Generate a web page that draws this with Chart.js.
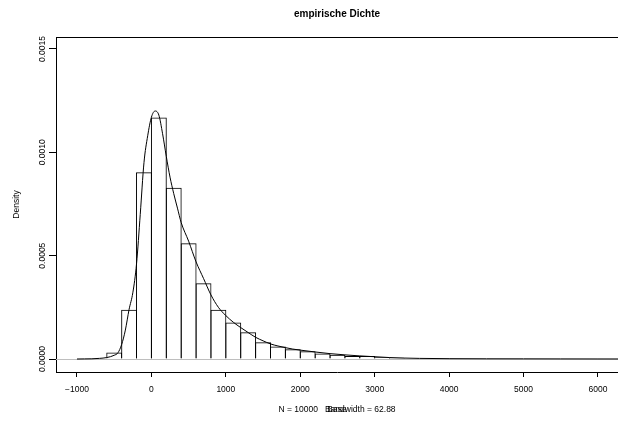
<!DOCTYPE html>
<html>
<head>
<meta charset="utf-8">
<script src="https://cdn.jsdelivr.net/npm/chart.js@4"></script>
<style>
  html, body { margin: 0; padding: 0; background: #fff; }
  #wrap { width: 618px; height: 423px; position: relative; }
</style>
</head>
<body>
<div id="wrap"><canvas id="myChart" width="618" height="423"></canvas></div>
<script>
// histogram: bin edges and density per bin
var breaks = [-600, -400, -200, 0, 200, 400, 600, 800, 1000, 1200, 1400, 1600, 1800, 2000, 2200, 2400, 2600, 2800, 3000, 3200, 3400, 3600, 3800];
var dichte = [0.000032, 0.000238, 0.000903, 0.001169, 0.000828, 0.000560, 0.000366, 0.000238, 0.000177, 0.000129, 0.000081, 0.000061, 0.000047, 0.000037, 0.000027, 0.000021, 0.000015, 0.000015, 0.000008, 0.000006, 0.000004, 0.000002];

// kernel density curve
var kdeX = [-1000, -900, -800, -700, -600, -500, -450, -400, -350, -300, -250, -200, -150, -100, -50, 0, 50, 100, 150, 200, 250, 300, 350, 400, 500, 600, 700, 800, 900, 1000, 1100, 1200, 1300, 1400, 1500, 1600, 1700, 1800, 1900, 2000, 2200, 2400, 2600, 2800, 3000, 3200, 3400, 3600, 4000, 4500, 5000, 5500, 6000, 6300];
var kdeY = [0, 0.0000005, 0.000001, 0.000003, 0.000007, 0.000018, 0.00003, 0.00007, 0.00014, 0.00024, 0.00032, 0.00046, 0.0007, 0.00095, 0.00108, 0.00117, 0.0012, 0.00118, 0.00109, 0.00098, 0.00088, 0.0008, 0.00073, 0.00066, 0.00057, 0.00047, 0.00039, 0.00031, 0.00025, 0.00021, 0.000178, 0.000152, 0.000128, 0.000105, 0.000088, 0.000073, 0.000063, 0.000055, 0.000048, 0.000043, 0.000034, 0.000026, 0.00002, 0.000015, 0.000011, 0.000007, 0.0000045, 0.000003, 0.0000016, 0.000001, 0.0000008, 0.0000005, 0.0000003, 0.0000002];

var xTicks = [-1000, 0, 1000, 2000, 3000, 4000, 5000, 6000];
var xTickLabels = ['\u22121000', '0', '1000', '2000', '3000', '4000', '5000', '6000'];
var yTicks = [0, 0.0005, 0.001, 0.0015];
var yTickLabels = ['0.0000', '0.0005', '0.0010', '0.0015'];

var titel = 'empirische Dichte';
var yLabel = 'Density';
var xLabel = 'N = 10000   Bandwidth = 62.88';
var xLabel2 = 'Base';

var FONT = '"Liberation Sans", Arial, Helvetica, sans-serif';

var bars = [];
for (var i = 0; i < dichte.length; i++) {
    bars.push({ x: (breaks[i] + breaks[i + 1]) / 2, y: dichte[i] });
}
var kurve = kdeX.map(function (x, i) { return { x: x, y: kdeY[i] }; });

var rPlot = {
    id: 'rPlot',
    beforeDatasetsDraw: function (chart) {
        var ctx = chart.ctx, a = chart.chartArea;
        var y0 = Math.round(chart.scales.y.getPixelForValue(0)) + 0.5;
        ctx.save();
        ctx.strokeStyle = '#bebebe';
        ctx.lineWidth = 1;
        ctx.beginPath();
        ctx.moveTo(a.left, y0);
        ctx.lineTo(a.right, y0);
        ctx.stroke();
        ctx.restore();
    },
    afterDraw: function (chart) {
        var ctx = chart.ctx, a = chart.chartArea, ys = chart.scales.y;
        var cx = (a.left + a.right) / 2;
        ctx.save();
        ctx.fillStyle = '#000';
        // top of the box
        ctx.strokeStyle = '#000';
        ctx.lineWidth = 1;
        ctx.beginPath();
        ctx.moveTo(a.left, Math.round(a.top) + 0.5);
        ctx.lineTo(a.right, Math.round(a.top) + 0.5);
        ctx.stroke();

        ctx.textAlign = 'center';
        ctx.textBaseline = 'middle';
        ctx.font = 'bold 10px ' + FONT;
        ctx.fillText(titel, cx, 14);

        ctx.font = '8.5px ' + FONT;
        ctx.fillText(xLabel, cx, 410);
        ctx.fillText(xLabel2, cx, 410);

        // y tick labels, rotated like R
        yTicks.forEach(function (v, i) {
            var py = ys.getPixelForValue(v);
            ctx.save();
            ctx.translate(42.5, py);
            ctx.rotate(-Math.PI / 2);
            ctx.fillText(yTickLabels[i], 0, 0);
            ctx.restore();
        });

        ctx.save();
        ctx.translate(17, (a.top + a.bottom) / 2);
        ctx.rotate(-Math.PI / 2);
        ctx.fillText(yLabel, 0, 0);
        ctx.restore();
        ctx.restore();
    }
};

var ctx = document.getElementById('myChart').getContext('2d');
var myChart = new Chart(ctx, {
    type: 'bar',
    data: {
        datasets: [{
            type: 'line',
            label: 'Dichte',
            data: kurve,
            borderColor: '#000',
            borderWidth: 1,
            pointRadius: 0,
            fill: false,
            cubicInterpolationMode: 'monotone',
            order: 0
        }, {
            type: 'bar',
            label: 'Histogramm',
            data: bars,
            backgroundColor: 'rgba(255,255,255,0)',
            borderColor: '#000',
            borderWidth: { top: 1, left: 1, right: 1, bottom: 0 },
            // one extra pixel so neighbouring borders sit on top of each other
            barPercentage: 1.067,
            categoryPercentage: 1,
            order: 2
        }]
    },
    options: {
        responsive: false,
        animation: false,
        events: [],
        layout: { padding: { top: 37, left: 0, right: 0, bottom: 0 } },
        plugins: {
            legend: { display: false },
            tooltip: { enabled: false },
            title: { display: false }
        },
        scales: {
            x: {
                type: 'linear',
                offset: false,
                min: -1282,
                max: 6269,
                afterBuildTicks: function (s) { s.ticks = xTicks.map(function (v) { return { value: v }; }); },
                afterFit: function (s) { s.height = 51; },
                grid: { offset: false, drawOnChartArea: false, drawTicks: true, tickLength: 5, tickColor: '#000', tickWidth: 1 },
                border: { display: true, color: '#000', width: 1 },
                ticks: {
                    autoSkip: false,
                    maxRotation: 0,
                    minRotation: 0,
                    padding: 8,
                    color: '#000',
                    font: { family: FONT, size: 8.5 },
                    callback: function (v, i) { return xTickLabels[i]; }
                }
            },
            y: {
                type: 'linear',
                min: -0.0000629,
                max: 0.001558,
                afterBuildTicks: function (s) { s.ticks = yTicks.map(function (v) { return { value: v }; }); },
                afterFit: function (s) { s.width = 56; },
                grid: { drawOnChartArea: false, drawTicks: true, tickLength: 7, tickColor: '#000', tickWidth: 1 },
                border: { display: true, color: '#000', width: 1 },
                ticks: { display: false }
            }
        }
    },
    plugins: [rPlot]
});
</script>
</body>
</html>
